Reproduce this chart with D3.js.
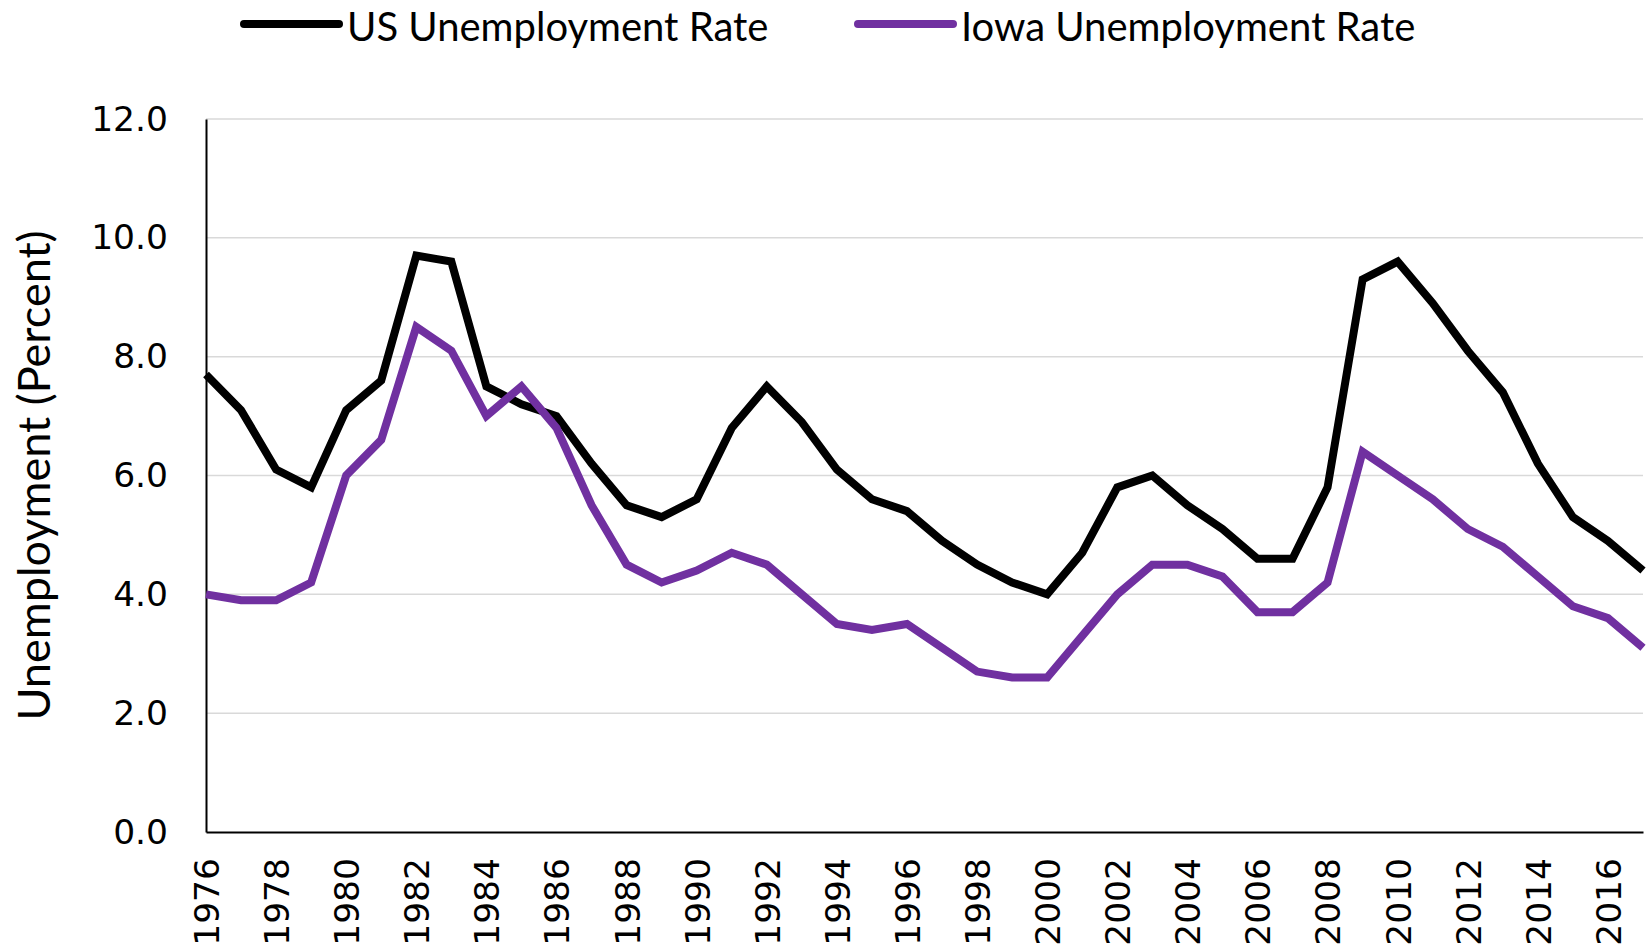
<!DOCTYPE html>
<html>
<head>
<meta charset="utf-8">
<script src="https://cdn.jsdelivr.net/npm/d3@7"></script>
<style>
  body { margin: 0; background: #fff; }
  .tick-label { font-family: "DejaVu Sans", Verdana, sans-serif; font-size: 34.5px; fill: #000; }
  .legend-text { font-family: Lato, "Open Sans", sans-serif; font-size: 40px; fill: #000; }
  .axis-title { font-family: Lato, "Open Sans", sans-serif; font-size: 45px; fill: #000; }
</style>
</head>
<body>
<svg id="chart"></svg>
<script>
const years = d3.range(1976, 2018);
const usRate = [7.7, 7.1, 6.1, 5.8, 7.1, 7.6, 9.7, 9.6, 7.5, 7.2, 7.0, 6.2, 5.5, 5.3, 5.6, 6.8, 7.5, 6.9, 6.1, 5.6, 5.4,
                4.9, 4.5, 4.2, 4.0, 4.7, 5.8, 6.0, 5.5, 5.1, 4.6, 4.6, 5.8, 9.3, 9.6, 8.9, 8.1, 7.4, 6.2, 5.3, 4.9, 4.4];
const iowaRate = [4.0, 3.9, 3.9, 4.2, 6.0, 6.6, 8.5, 8.1, 7.0, 7.5, 6.8, 5.5, 4.5, 4.2, 4.4, 4.7, 4.5, 4.0, 3.5, 3.4, 3.5,
                  3.1, 2.7, 2.6, 2.6, 3.3, 4.0, 4.5, 4.5, 4.3, 3.7, 3.7, 4.2, 6.4, 6.0, 5.6, 5.1, 4.8, 4.3, 3.8, 3.6, 3.1];
const yTicks = [0, 2, 4, 6, 8, 10, 12];
const xTicks = d3.range(1976, 2017, 2);
const seriesNames = ["US Unemployment Rate", "Iowa Unemployment Rate"];
const seriesColors = ["#000000", "#7030a0"];

const svg_size = {width: 1651, height: 950};
const margin = {top: 119, right: 8, bottom: 118, left: 206};
const w = svg_size.width - margin.left - margin.right;
const h = svg_size.height - margin.top - margin.bottom;

const svg = d3.select("#chart")
    .attr("width", svg_size.width)
    .attr("height", svg_size.height);
const plot = svg.append("g")
    .attr("transform", `translate(${margin.left},${margin.top})`);

const x = d3.scaleLinear().domain([1976, 2017]).range([0, w]);
const y = d3.scaleLinear().domain([0, 12]).range([h, 0]);

// gridlines
plot.append("g")
    .selectAll("line")
    .data(yTicks.filter(d => d > 0))
    .enter()
    .append("line")
    .attr("x1", 0).attr("x2", w)
    .attr("y1", d => y(d)).attr("y2", d => y(d))
    .attr("stroke", "#d9d9d9")
    .attr("stroke-width", 1.5);

// y axis
const yAxis = plot.append("g")
    .call(d3.axisLeft(y).tickValues(yTicks).tickSize(0).tickPadding(38).tickFormat(d3.format(".1f")));
yAxis.select(".domain").attr("stroke", "#000").attr("stroke-width", 2);
yAxis.selectAll("text").attr("class", "tick-label").attr("font-size", null).attr("font-family", null);

// x axis
const xAxis = plot.append("g")
    .attr("transform", `translate(0,${h})`)
    .call(d3.axisBottom(x).tickValues(xTicks).tickSize(0).tickFormat(d3.format("d")));
xAxis.select(".domain").attr("stroke", "#000").attr("stroke-width", 2);
xAxis.selectAll("text")
    .attr("class", "tick-label")
    .attr("font-size", null).attr("font-family", null)
    .attr("text-anchor", "end")
    .attr("transform", "translate(0,26) rotate(-90)")
    .attr("x", 0).attr("y", 0)
    .attr("dy", "0.36em");

// y axis title
svg.append("text")
    .attr("class", "axis-title")
    .attr("transform", `translate(34,${margin.top + h / 2}) rotate(-90)`)
    .attr("text-anchor", "middle")
    .attr("dy", "0.36em")
    .text("Unemployment (Percent)");

// lines
const line = d3.line()
    .x((d, i) => x(years[i]))
    .y(d => y(d));

[usRate, iowaRate].forEach((series, k) => {
    plot.append("path")
        .datum(series)
        .attr("fill", "none")
        .attr("stroke", seriesColors[k])
        .attr("stroke-width", 8)
        .attr("stroke-linejoin", "miter")
        .attr("d", line);
});

// legend
const legendX = [244, 858];
const legend = svg.append("g");
seriesNames.forEach((name, k) => {
    legend.append("line")
        .attr("x1", legendX[k]).attr("x2", legendX[k] + 95)
        .attr("y1", 24).attr("y2", 24)
        .attr("stroke", seriesColors[k])
        .attr("stroke-width", 8)
        .attr("stroke-linecap", "round");
    legend.append("text")
        .attr("class", "legend-text")
        .attr("x", legendX[k] + 103)
        .attr("y", 41)
        .text(name);
});
</script>
</body>
</html>
